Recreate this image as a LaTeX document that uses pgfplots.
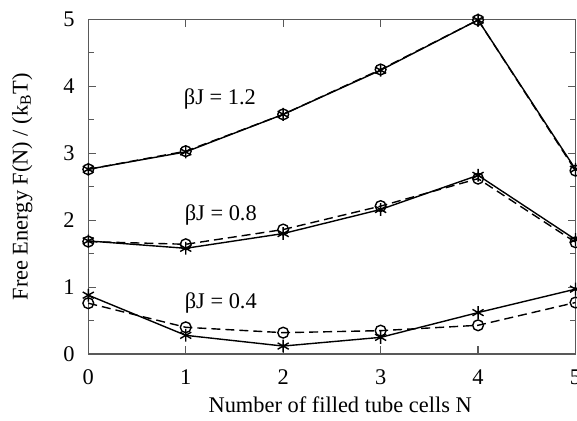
\documentclass[border=0pt]{standalone}
\usepackage{fontspec}
\setmainfont{Liberation Serif}
\usepackage{pgfplots}
\pgfplotsset{compat=1.18}

% solid = stars, dashed = circles
\pgfplotstableread{
N  a12  b12  a08  b08  a04  b04
0  2.76 2.76 1.69 1.68 0.88 0.76
1  3.02 3.03 1.58 1.64 0.28 0.40
2  3.58 3.58 1.80 1.86 0.12 0.32
3  4.24 4.25 2.16 2.21 0.25 0.35
4  4.99 4.99 2.67 2.62 0.62 0.43
5  2.76 2.74 1.71 1.67 0.97 0.77
}\fe

\begin{document}
\fontsize{11.2}{13.5}\selectfont
\begin{tikzpicture}
\begin{axis}[
  scale only axis, width=243.6pt, height=167.4pt,
  xmin=0, xmax=5, ymin=0, ymax=5,
  xtick={0,1,2,3,4,5}, ytick={0,1,2,3,4,5},
  minor ytick={0.5,1.5,2.5,3.5,4.5},
  tick align=inside, major tick length=4pt, minor tick length=3pt,
  axis line style={black!65, line width=0.7pt},
  every tick/.style={black!65, line width=0.6pt},
  /pgf/number format/assume math mode=true,
  xticklabel style={yshift=-4pt},
  yticklabel style={xshift=-2.9pt},
  xlabel={Number of filled tube cells N},
  ylabel={Free Energy F(N) / (k\textsubscript{B}T)},
  xlabel style={at={(axis description cs:0.517,-0.152)}, anchor=center},
  ylabel style={at={(axis description cs:-0.1355,0.5)}, anchor=center},
  clip=false,
  every axis plot/.append style={black, line width=0.7pt},
]
\addplot[mark=asterisk, mark size=3.2pt, mark options={solid}] table[x=N, y=a12] {\fe};
\addplot[dashed, dash pattern=on 4.5pt off 2.5pt, mark=o, mark size=2.7pt, mark options={solid}] table[x=N, y=b12] {\fe};
\addplot[mark=asterisk, mark size=3.2pt, mark options={solid}] table[x=N, y=a08] {\fe};
\addplot[dashed, dash pattern=on 4.5pt off 2.5pt, mark=o, mark size=2.7pt, mark options={solid}] table[x=N, y=b08] {\fe};
\addplot[mark=asterisk, mark size=3.2pt, mark options={solid}] table[x=N, y=a04] {\fe};
\addplot[dashed, dash pattern=on 4.5pt off 2.5pt, mark=o, mark size=2.7pt, mark options={solid}] table[x=N, y=b04] {\fe};
\node at (axis cs:1.35,3.81) {βJ = 1.2};
\node at (axis cs:1.36,2.07) {βJ = 0.8};
\node at (axis cs:1.36,0.76) {βJ = 0.4};
\coordinate (bl) at (rel axis cs:0,0);
\coordinate (tr) at (rel axis cs:1,1);
\end{axis}
\pgfresetboundingbox
\path[use as bounding box] ([shift={(-44.15pt,-33pt)}]bl) rectangle ([shift={(0.75pt,9.65pt)}]tr);
\end{tikzpicture}
\end{document}
